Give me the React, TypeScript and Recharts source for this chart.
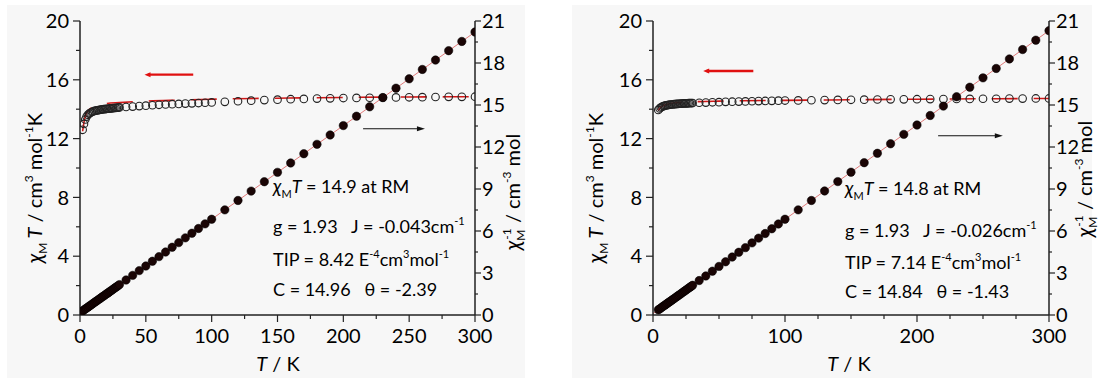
import React from "react";
import { ComposedChart, Scatter, Line, XAxis, YAxis, ReferenceLine } from "recharts";

// sample A: temperature (K), chi_M*T (cm3 mol-1 K), 1/chi_M (cm-3 mol)
const tempsA = [2, 3, 4, 5, 6, 7, 8, 9, 10, 11, 12, 13, 14, 15, 16, 17, 18, 19, 20, 21, 22, 23, 24, 25, 26, 27, 28, 29, 30, 35, 40, 45, 50, 55, 60, 65, 70, 75, 80, 85, 90, 95, 100, 110, 120, 130, 140, 150, 160, 170, 180, 190, 200, 210, 220, 230, 240, 250, 260, 270, 280, 290, 300];
const chiTA = [12.6, 13.0, 13.3, 13.5, 13.62, 13.7, 13.76, 13.81, 13.85, 13.88, 13.9, 13.92, 13.94, 13.96, 13.97, 13.99, 14.0, 14.01, 14.02, 14.03, 14.04, 14.05, 14.06, 14.07, 14.08, 14.09, 14.1, 14.11, 14.12, 14.15, 14.18, 14.21, 14.24, 14.27, 14.3, 14.32, 14.34, 14.36, 14.38, 14.4, 14.42, 14.44, 14.46, 14.5, 14.54, 14.58, 14.62, 14.65, 14.68, 14.7, 14.72, 14.74, 14.76, 14.77, 14.78, 14.79, 14.8, 14.81, 14.82, 14.83, 14.84, 14.84, 14.85];
const invChiA = [0.29, 0.36, 0.43, 0.49, 0.56, 0.63, 0.69, 0.76, 0.83, 0.9, 0.96, 1.03, 1.1, 1.16, 1.23, 1.3, 1.36, 1.43, 1.5, 1.56, 1.63, 1.7, 1.76, 1.83, 1.9, 1.97, 2.03, 2.1, 2.17, 2.5, 2.83, 3.17, 3.5, 3.84, 4.17, 4.5, 4.84, 5.17, 5.51, 5.84, 6.18, 6.51, 6.84, 7.51, 8.18, 8.85, 9.52, 10.19, 10.86, 11.52, 12.19, 12.86, 13.53, 14.2, 14.87, 15.53, 16.2, 16.87, 17.54, 18.21, 18.88, 19.54, 20.21];
const fitTempsA = [2, 3, 4, 5, 6, 8, 10, 15, 20, 30, 50, 75, 100, 150, 200, 250, 300];
const fitChiTA = [12.5, 13.1, 13.5, 13.75, 13.9, 14.05, 14.15, 14.3, 14.38, 14.45, 14.55, 14.62, 14.68, 14.75, 14.8, 14.83, 14.85];
const fitInvTempsA = [0, 300];
const fitInvA = [0.16, 20.21];

// sample B
const tempsB = [4, 5, 6, 7, 8, 9, 10, 11, 12, 13, 14, 15, 16, 17, 18, 19, 20, 21, 22, 23, 24, 25, 26, 27, 28, 29, 30, 35, 40, 45, 50, 55, 60, 65, 70, 75, 80, 85, 90, 95, 100, 110, 120, 130, 140, 150, 160, 170, 180, 190, 200, 210, 220, 230, 240, 250, 260, 270, 280, 290, 300];
const chiTB = [13.95, 14.05, 14.12, 14.17, 14.21, 14.24, 14.26, 14.28, 14.3, 14.31, 14.32, 14.33, 14.34, 14.35, 14.36, 14.36, 14.37, 14.38, 14.38, 14.39, 14.39, 14.4, 14.4, 14.41, 14.41, 14.42, 14.42, 14.44, 14.45, 14.47, 14.48, 14.5, 14.51, 14.52, 14.53, 14.54, 14.55, 14.56, 14.57, 14.58, 14.59, 14.6, 14.61, 14.62, 14.63, 14.64, 14.65, 14.66, 14.67, 14.67, 14.68, 14.69, 14.69, 14.7, 14.7, 14.71, 14.71, 14.72, 14.72, 14.73, 14.73];
const invChiB = [0.37, 0.43, 0.5, 0.57, 0.64, 0.7, 0.77, 0.84, 0.91, 0.97, 1.04, 1.11, 1.17, 1.24, 1.31, 1.38, 1.44, 1.51, 1.58, 1.65, 1.71, 1.78, 1.85, 1.92, 1.98, 2.05, 2.12, 2.46, 2.79, 3.13, 3.47, 3.8, 4.14, 4.48, 4.81, 5.15, 5.49, 5.82, 6.16, 6.5, 6.84, 7.51, 8.18, 8.86, 9.53, 10.2, 10.88, 11.55, 12.23, 12.9, 13.57, 14.25, 14.92, 15.59, 16.27, 16.94, 17.61, 18.29, 18.96, 19.63, 20.31];
const fitTempsB = [4, 5, 7, 10, 20, 30, 50, 100, 150, 200, 250, 300];
const fitChiTB = [13.9, 14.05, 14.2, 14.32, 14.45, 14.5, 14.55, 14.6, 14.64, 14.68, 14.71, 14.73];
const fitInvTempsB = [0, 300];
const fitInvB = [0.1, 20.31];

// axis ticks
const xTicks = [0, 25, 50, 75, 100, 125, 150, 175, 200, 225, 250, 275, 300];
const leftTicks = [0, 2, 4, 6, 8, 10, 12, 14, 16, 18, 20];
const rightTicks = [0, 1.5, 3, 4.5, 6, 7.5, 9, 10.5, 12, 13.5, 15, 16.5, 18, 19.5, 21];

const AXIS = "#222";
const FONT = "Lato, 'Open Sans', sans-serif";
const NB = "\u00a0";

const rows = (ts: number[], vs: number[]) => ts.map((T, i) => ({ T, v: vs[i] }));

const OpenDot = (p: any) => (
  <circle cx={p.cx} cy={p.cy} r={3.8} fill="none" stroke="#222" strokeWidth={1.1} />
);
const FilledDot = (p: any) => (
  <circle cx={p.cx} cy={p.cy} r={4.2} fill="#1a0505" stroke="#000" strokeWidth={0.5} />
);

const bottomTick = (step: number) => (p: any) => {
  const major = p.payload.value % step === 0;
  return (
    <g>
      <line x1={p.x} x2={p.x} y1={p.y} y2={p.y + (major ? 7 : 4)} stroke={AXIS} strokeWidth={1.2} />
      {major && (
        <text x={p.x} y={p.y + 28} textAnchor="middle" fontSize={20} fill="#000" fontFamily={FONT}>
          {p.payload.value}
        </text>
      )}
    </g>
  );
};

const leftTick = (p: any) => {
  const major = p.payload.value % 4 === 0;
  return (
    <g>
      <line x1={p.x} x2={p.x - (major ? 7 : 4)} y1={p.y} y2={p.y} stroke={AXIS} strokeWidth={1.2} />
      {major && (
        <text x={p.x - 11} y={p.y} dy="0.36em" textAnchor="end" fontSize={20} fill="#000" fontFamily={FONT}>
          {p.payload.value}
        </text>
      )}
    </g>
  );
};

const rightTick = (p: any) => {
  const major = p.payload.value % 3 === 0;
  return (
    <g>
      <line x1={p.x} x2={p.x + (major ? 6 : 3)} y1={p.y} y2={p.y} stroke={AXIS} strokeWidth={1.2} />
      {major && (
        <text x={p.x + 7} y={p.y} dy="0.36em" textAnchor="start" fontSize={20} fill="#000" fontFamily={FONT}>
          {p.payload.value}
        </text>
      )}
    </g>
  );
};

// horizontal arrow, head at (x2, y2)
const arrow = (color: string, width: number, head: number, half: number) => (p: any) => {
  if (p.x1 == null) return null;
  const dir = p.x2 > p.x1 ? 1 : -1;
  return (
    <g>
      <line x1={p.x1} y1={p.y1} x2={p.x2 - dir * head * 0.6} y2={p.y2} stroke={color} strokeWidth={width} />
      <polygon
        points={`${p.x2},${p.y2} ${p.x2 - dir * head},${p.y2 - half} ${p.x2 - dir * head},${p.y2 + half}`}
        fill={color}
      />
    </g>
  );
};

type PanelProps = {
  temps: number[];
  chiT: number[];
  inv: number[];
  fitTemps: number[];
  fitChiT: number[];
  fitInvTemps: number[];
  fitInv: number[];
  step: number;
  margin: { top: number; right: number; bottom: number; left: number };
  redArrow: [number, number, number];
  blackArrow: [number, number, number];
};

function Panel(props: PanelProps) {
  const { temps, chiT, inv, step, margin, redArrow, blackArrow } = props;
  return (
    <ComposedChart width={550} height={378} margin={margin}>
      <XAxis
        dataKey="T"
        type="number"
        domain={[0, 300]}
        ticks={xTicks}
        interval={0}
        height={30}
        tickSize={0}
        tickMargin={0}
        tickLine={false}
        tick={bottomTick(step)}
        axisLine={{ stroke: AXIS, strokeWidth: 1.5 }}
        allowDataOverflow
      />
      <XAxis
        xAxisId="top"
        orientation="top"
        type="number"
        domain={[0, 300]}
        height={0}
        tick={false}
        tickLine={false}
        axisLine={{ stroke: AXIS, strokeWidth: 1.5 }}
      />
      <YAxis
        yAxisId="L"
        dataKey="v"
        type="number"
        domain={[0, 20]}
        ticks={leftTicks}
        interval={0}
        width={40}
        tickSize={0}
        tickMargin={0}
        tickLine={false}
        tick={leftTick}
        axisLine={{ stroke: AXIS, strokeWidth: 1.5 }}
        allowDataOverflow
      />
      <YAxis
        yAxisId="R"
        dataKey="v"
        orientation="right"
        type="number"
        domain={[0, 21]}
        ticks={rightTicks}
        interval={0}
        width={40}
        tickSize={0}
        tickMargin={0}
        tickLine={false}
        tick={rightTick}
        axisLine={{ stroke: AXIS, strokeWidth: 1.5 }}
        allowDataOverflow
      />
      <Line
        yAxisId="L"
        data={rows(props.fitTemps, props.fitChiT)}
        dataKey="v"
        type="monotone"
        stroke="#d01818"
        strokeWidth={1.6}
        strokeDasharray="26 16"
        dot={false}
        isAnimationActive={false}
      />
      <Scatter yAxisId="L" data={rows(temps, chiT)} shape={OpenDot} isAnimationActive={false} />
      <Scatter yAxisId="R" data={rows(temps, inv)} shape={FilledDot} isAnimationActive={false} />
      <Line
        yAxisId="R"
        data={rows(props.fitInvTemps, props.fitInv)}
        dataKey="v"
        type="linear"
        stroke="#e07a7a"
        strokeWidth={1}
        dot={false}
        isAnimationActive={false}
      />
      <ReferenceLine
        yAxisId="L"
        segment={[{ x: redArrow[0], y: redArrow[2] }, { x: redArrow[1], y: redArrow[2] }]}
        shape={arrow("#e01010", 2.4, 6, 2.5)}
      />
      <ReferenceLine
        yAxisId="R"
        segment={[{ x: blackArrow[0], y: blackArrow[2] }, { x: blackArrow[1], y: blackArrow[2] }]}
        shape={arrow("#111", 1.1, 8, 2.5)}
      />
    </ComposedChart>
  );
}

const S = { fontSize: 11 };

function Notes({ x, y, chiT, J, tip, C, theta }: any) {
  return (
    <g fontFamily={FONT} fontSize={18} fill="#000">
      <text x={x} y={y[0]}>
        <tspan fontStyle="italic" fontSize={19}>χ</tspan>
        <tspan dy={5} {...S}>M</tspan>
        <tspan dy={-5} fontStyle="italic">T</tspan>
        <tspan>{` = ${chiT} at RM`}</tspan>
      </text>
      <text x={x} y={y[1]}>
        {`g = 1.93${NB}${NB} J = ${J}cm`}
        <tspan dy={-8} {...S}>-1</tspan>
      </text>
      <text x={x} y={y[2]}>
        {`TIP = ${tip} E`}
        <tspan dy={-8} {...S}>-4</tspan>
        <tspan dy={8}>cm</tspan>
        <tspan dy={-8} {...S}>3</tspan>
        <tspan dy={8}>mol</tspan>
        <tspan dy={-8} {...S}>-1</tspan>
      </text>
      <text x={x} y={y[3]}>{`C = ${C}${NB}${NB} θ = ${theta}`}</text>
    </g>
  );
}

function Titles({ lx, rx, rcy, bx }: any) {
  return (
    <g fontFamily={FONT} fontSize={20} fill="#000">
      <text transform={`translate(${lx},188) rotate(-90)`} textAnchor="middle">
        <tspan fontStyle="italic" fontSize={21}>χ</tspan>
        <tspan dy={5} fontSize={12}>M</tspan>
        <tspan dy={-5} fontStyle="italic">{`${NB}T`}</tspan>
        <tspan>{`${NB}/ cm`}</tspan>
        <tspan dy={-9} fontSize={12}>3</tspan>
        <tspan dy={9}>{`${NB}mol`}</tspan>
        <tspan dy={-9} fontSize={12}>-1</tspan>
        <tspan dy={9}>K</tspan>
      </text>
      <text transform={`translate(${rx},${rcy}) rotate(-90)`} textAnchor="middle">
        <tspan fontStyle="italic" fontSize={21}>χ</tspan>
        <tspan dy={5} fontSize={12}>M</tspan>
        <tspan dx={-10} dy={-14} fontSize={12}>-1</tspan>
        <tspan dy={9}>{`${NB}/ cm`}</tspan>
        <tspan dy={-9} fontSize={12}>-3</tspan>
        <tspan dy={9}>{`${NB}mol`}</tspan>
      </text>
      <text x={bx} y={371} textAnchor="middle">
        <tspan fontStyle="italic">T</tspan>
        <tspan>{`${NB}/ K`}</tspan>
      </text>
    </g>
  );
}

export default function App() {
  return (
    <div style={{ position: "absolute", left: 0, top: 0, width: 1099, height: 378, background: "#fff", overflow: "hidden" }}>
      <div style={{ position: "absolute", left: 7, top: 5, width: 518, height: 373, background: "#f7f7f7" }} />
      <div style={{ position: "absolute", left: 572, top: 5, width: 520, height: 373, background: "#f7f7f7" }} />
      <div style={{ position: "absolute", left: 0, top: 0 }}>
        <Panel
          temps={tempsA}
          chiT={chiTA}
          inv={invChiA}
          fitTemps={fitTempsA}
          fitChiT={fitChiTA}
          fitInvTemps={fitInvTempsA}
          fitInv={fitInvA}
          step={50}
          margin={{ top: 21, right: 35, bottom: 33, left: 40 }}
          redArrow={[86, 49, 16.35]}
          blackArrow={[215, 262, 13.3]}
        />
      </div>
      <div style={{ position: "absolute", left: 550, top: 0 }}>
        <Panel
          temps={tempsB}
          chiT={chiTB}
          inv={invChiB}
          fitTemps={fitTempsB}
          fitChiT={fitChiTB}
          fitInvTemps={fitInvTempsB}
          fitInv={fitInvB}
          step={100}
          margin={{ top: 21, right: 11, bottom: 33, left: 63 }}
          redArrow={[76, 38, 16.6]}
          blackArrow={[216, 265, 12.8]}
        />
      </div>
      <svg width={1099} height={378} style={{ position: "absolute", left: 0, top: 0, pointerEvents: "none" }}>
        <Titles lx={42} rx={520} rcy={192} bx={278} />
        <Titles lx={603} rx={1092} rcy={179} bx={849} />
        <Notes x={273} y={[193, 233, 266, 296]} chiT="14.9" J="-0.043" tip="8.42" C="14.96" theta="-2.39" />
        <Notes x={845} y={[195, 237, 269, 298]} chiT="14.8" J="-0.026" tip="7.14" C="14.84" theta="-1.43" />
      </svg>
    </div>
  );
}
